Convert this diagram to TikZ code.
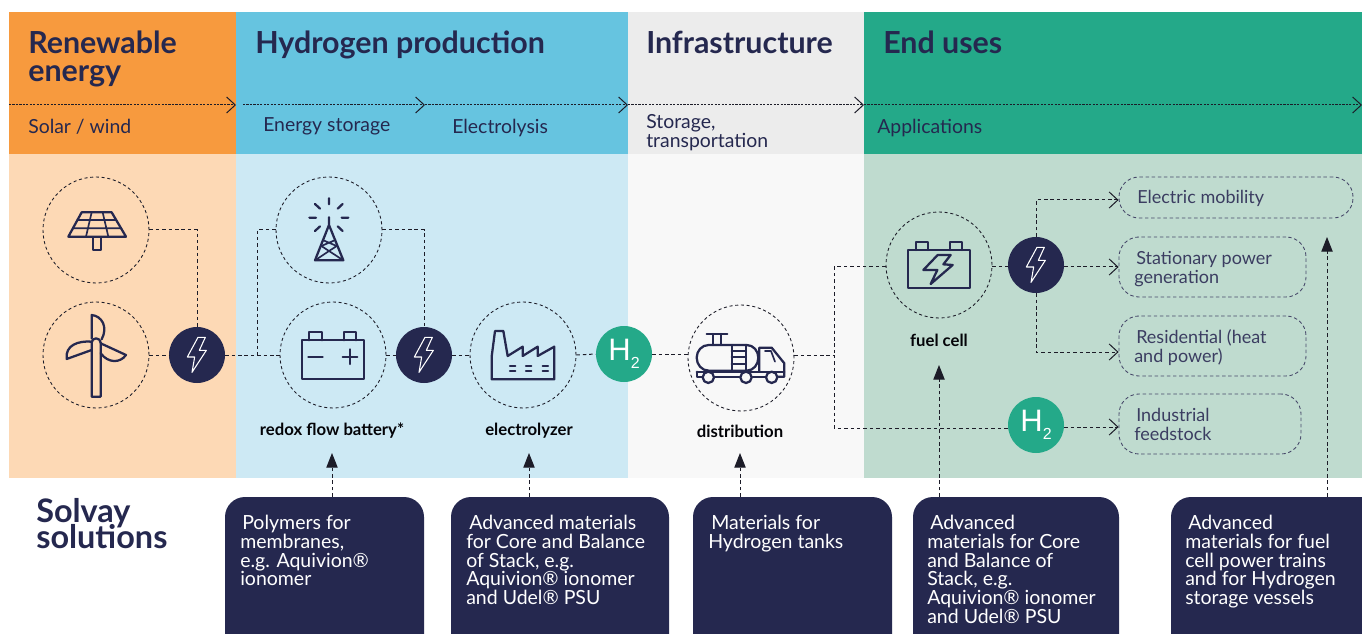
\documentclass[tikz,border=0pt]{standalone}
\usepackage{fontspec}
\setmainfont{Lato}
\usetikzlibrary{arrows.meta,calc}
\definecolor{navy}{HTML}{25284F}
\definecolor{orangeA}{HTML}{F79A3E}
\definecolor{orangeB}{HTML}{FDD9B5}
\definecolor{blueA}{HTML}{66C4E0}
\definecolor{blueB}{HTML}{CDE9F4}
\definecolor{greyA}{HTML}{ECECEC}
\definecolor{greyB}{HTML}{F8F8F8}
\definecolor{greenA}{HTML}{24A989}
\definecolor{greenB}{HTML}{BFDBCF}
\definecolor{dashc}{HTML}{1C1C28}
\newlength\px \px=.75pt
\newcommand\sz[2]{\fontsize{#1\px}{#2\px}\selectfont\lineskiplimit=-100pt }
\tikzset{
  ring/.style={circle,draw=dashc,line width=.65pt,dash pattern=on 2.3pt off 2pt,minimum size=79.5pt,inner sep=0pt},
  boltdot/.style={circle,fill=navy,minimum size=42pt,inner sep=0pt},
  hdot/.style={circle,fill=greenA,minimum size=42pt,inner sep=0pt,text=white,font=\fontspec{Liberation Sans}\sz{31}{31}},
  pill/.style={rounded corners=15pt,draw=navy!85,line width=.65pt,dash pattern=on 2.6pt off 2pt,inner sep=0pt},
  link/.style={draw=dashc,line width=.75pt,dash pattern=on 2.6pt off 2.2pt},
  stageline/.style={draw=dashc,line width=.75pt,dash pattern=on 1.6pt off 1pt,-{Straight Barb[length=6.5pt,width=12pt,line width=.75pt]}},
  bararrow/.style={link,-{Straight Barb[length=6.5pt,width=12pt,line width=.75pt]}},
  upnote/.style={link,-{Triangle[length=11pt,width=8.5pt]}},
  solbox/.style={fill=navy,rounded corners=15pt,inner sep=0pt},
  soltext/.style={anchor=north west,align=left,text=white,inner sep=0pt,font=\sz{19.5}{18.7}},
  title/.style={anchor=north west,align=left,text=navy,inner sep=0pt,font=\bfseries\sz{30.4}{28}},
  sub/.style={anchor=north west,align=left,text=navy,inner sep=0pt,font=\sz{19.4}{18.7}},
  pilltext/.style={anchor=north west,align=left,text=navy!90,inner sep=0pt,font=\sz{18}{19}},
  caption/.style={text=black!90!navy,inner sep=0pt,font=\bfseries\sz{16.7}{18}},
  ico/.style={draw=navy,line width=1.7pt,line join=round,line cap=round},
  icothin/.style={draw=navy,line width=1.25pt,line join=round,line cap=round},
  boltic/.pic={\draw[white,line width=.8pt,line join=round,scale=1/3] (3,-53)--(25,-53)--(7,-14)--(28,-14)--(-15,52)--(-7,6)--(-29,6)--cycle;}
}
\begin{document}
\begin{tikzpicture}[x=.75pt,y=-.75pt]
\useasboundingbox (0,0) rectangle (1362,634);
\clip (0,0) rectangle (1362,634);
\fill[white] (0,0) rectangle (1362,634);
% bands
\fill[orangeA] (9,12) rectangle (236,154);
\fill[blueA] (236,12) rectangle (628,154);
\fill[greyA] (628,12) rectangle (864,154);
\fill[greenA] (864,12) rectangle (1362,154);
\fill[orangeB] (9,154) rectangle (236,478);
\fill[blueB] (236,154) rectangle (628,478);
\fill[greyB] (628,154) rectangle (864,478);
\fill[greenB] (864,154) rectangle (1362,478);
% headers
\node[title] (t1) at (28,31) {Renewable\\energy};
\node[title] (t2) at (255,31) {Hydrogen production};
\node[title] (t3) at (646,31) {Infrastructure};
\node[title] (t4) at (883,31) {End uses};
\node[sub] (s1) at (28,119) {Solar / wind};
\node[sub] (s2) at (263,117) {Energy storage};
\node[sub] (s3) at (452,119) {Electrolysis};
\node[sub] (s4) at (646,114) {Storage,\\transportation};
\node[sub] (s5) at (877,119) {Applications};
% stage line
\coordinate (a0) at (9,105); \coordinate (a1) at (236,105);
\coordinate (a2) at (243,105); \coordinate (a3) at (425,105);
\coordinate (a4) at (628,105); \coordinate (a5) at (864,105);
\coordinate (a6) at (1362,105);
\draw[stageline] (a0)--(a1);
\draw[stageline] (a2)--(a3);
\draw[stageline] (a3)--(a4);
\draw[stageline] (a4)--(a5);
\draw[stageline] (a5)--(a6);
% nodes
\node[ring] (solar) at (96,230) {};
\node[ring] (wind) at (96,355) {};
\node[boltdot] (b1) at (197,355) {};
\node[ring] (tower) at (329,230) {};
\node[ring] (batt) at (333,355) {};
\node[boltdot] (b2) at (424,355) {};
\node[ring] (elec) at (523,355) {};
\node[hdot] (h1) at (624,354) {H\raisebox{-8\px}{\sz{16}{16}2}};
\node[ring] (truck) at (741,358) {};
\node[ring] (fuel) at (939,265) {};
\node[boltdot] (b3) at (1036,265) {};
\node[hdot] (h2) at (1036,425) {H\raisebox{-8\px}{\sz{16}{16}2}};
\node[pill,minimum width=175.5pt,minimum height=30.75pt] (p1) at (1236,197.5) {};
\node[pill,minimum width=140.25pt,minimum height=45pt] (p2) at (1212.5,267) {};
\node[pill,minimum width=140.25pt,minimum height=45pt] (p3) at (1212.5,346) {};
\node[pill,minimum width=136.5pt,minimum height=45pt] (p4) at (1210,424) {};
\node[pilltext] (pt1) at (1137,190) {Electric mobility};
\node[pilltext] (pt2) at (1134,251) {\hspace*{2\px}Stationary power\\generation};
\node[pilltext] (pt3) at (1134,329) {\hspace*{2\px}Residential (heat\\and power)};
\node[pilltext] (pt4) at (1134,408) {\hspace*{2\px}Industrial\\feedstock};
\node[caption] (c1) at (332,431) {redox flow battery*};
\node[caption] (c2) at (529,431) {electrolyzer};
\node[caption] (c3) at (740,431) {distribution};
\node[caption] (c4) at (939,340) {fuel cell};
% solutions
\node[anchor=north west,align=left,text=navy,inner sep=0pt,font=\bfseries\sz{32.4}{26.5}] (sol) at (36,498) {Solvay\\solutions};
\node[solbox,minimum width=149.25pt,minimum height=135pt] (k1) at (324.5,587) {};
\node[solbox,minimum width=163.5pt,minimum height=135pt] (k2) at (560,587) {};
\node[solbox,minimum width=149.25pt,minimum height=135pt] (k3) at (792.5,587) {};
\node[solbox,minimum width=154.5pt,minimum height=135pt] (k4) at (1016,587) {};
\node[solbox,minimum width=180pt,minimum height=135pt] (k5) at (1291,587) {};
\node[soltext] (kt1) at (240,515) {\hspace*{2\px}Polymers for\\membranes,\\e.g. Aquivion®\\ionomer};
\node[soltext] (kt2) at (466,515) {\hspace*{3\px}Advanced materials\\for Core and Balance\\of Stack, e.g.\\Aquivion® ionomer\\and Udel® PSU};
\node[soltext] (kt3) at (708,515) {\hspace*{3\px}Materials for\\Hydrogen tanks};
\node[soltext] (kt4) at (927,515) {\hspace*{3\px}Advanced\\materials for Core\\and Balance of\\Stack, e.g.\\Aquivion® ionomer\\and Udel® PSU};
\node[soltext] (kt5) at (1185,515) {\hspace*{3\px}Advanced\\materials for fuel\\cell power trains\\and for Hydrogen\\storage vessels};
% connectors
\draw[link] (solar.east) -| (b1.north);
\draw[link] (wind.east) -- (b1.west);
\draw[link] (b1.east) -- (batt.west);
\coordinate (j1) at (257,355);
\draw[link] (tower.west) -| (j1);
\draw[link] (tower.east) -| (b2.north);
\draw[link] (batt.east) -- (b2.west);
\draw[link] (b2.east) -- (elec.west);
\draw[link] (elec.east) -- (h1.west);
\draw[link] (h1.east) -- (truck.west |- h1.east);
\coordinate (j2) at (834,355);
\draw[link] (truck.east |- j2) -- (j2);
\draw[link] (fuel.west |- 0,267) -| (j2);
\draw[link] (j2) |- (h2.west |- 0,428);
\draw[link] (fuel.east |- 0,267) -- (b3.west |- 0,267);
\draw[bararrow] (b3.north) |- (p1.west |- 0,200);
\draw[bararrow] (b3.east |- 0,267) -- (p2.west |- 0,267);
\draw[bararrow] (b3.south) |- (p3.west |- 0,352);
\draw[bararrow] (h2.east |- 0,427) -- (p4.west |- 0,427);
\coordinate (n5) at (1327,237);
\draw[upnote] (k1.north -| c1.south) -- (c1.south |- 0,453);
\draw[upnote] (k2.north -| c2.south) -- (c2.south |- 0,453);
\draw[upnote] (k3.north -| c3.south) -- (c3.south |- 0,453);
\draw[upnote] (k4.north -| c4.south) -- (c4.south |- 0,365);
\draw[upnote] (k5.north -| n5) -- (n5);
% bolts
\path (b1) pic {boltic};
\path (b2) pic {boltic};
\path (b3) pic {boltic};
% solar icon
\begin{scope}[shift={(0,160)},scale=1/3]
\draw[ico] (245,157)--(335,157)--(378,230)--(205,230)--cycle;
\draw[icothin] (232,180)--(349,180) (219,205)--(364,205) (275,157)--(258,230) (308,157)--(325,230);
\draw[ico] (278,232) rectangle (304,271);
% wind
\draw[ico] (275,710)--(275,548) to[out=90,in=180] (288,535) to[out=0,in=90] (302,548)--(302,710)--cycle;
\draw[ico] (275,535)--(275,465) .. controls (305,468) and (325,500) .. (305,538);
\draw[ico] (275,545) .. controls (235,542) and (195,555) .. (200,597) -- (275,570);
\draw[ico] (302,550)--(378,585) .. controls (360,610) and (325,610) .. (302,580);
% tower
\draw[ico] (987,115)--(987,133) (945,132)--(960,146) (1028,132)--(1013,146) (928,173)--(948,173) (1025,173)--(1045,173) (945,213)--(960,199) (1028,213)--(1013,199);
\draw[ico] (987,172)--(987,195) (945,301)--(987,195)--(1030,301)--cycle;
\draw[icothin] (945,301)--(1010,258)--(968,240) (1030,301)--(964,258)--(1006,240);
% battery
\draw[ico] (905,541) rectangle (1092,656);
\draw[ico] (928,541)--(928,517)--(965,517)--(965,541) (1032,541)--(1032,517)--(1068,517)--(1068,541);
\draw[ico] (925,590)--(968,590) (1028,590)--(1072,590) (1050,568)--(1050,612);
\end{scope}
% factory + truck
\begin{scope}[shift={(450,280)},scale=1/3]
\draw[ico] (125,298)--(125,230)--(135,153)--(160,153)--(173,228)--(218,200)--(218,228)--(263,200)--(263,228)--(313,200)--(313,298)--cycle;
\foreach \xa in {180,228,278}{
  \draw[ico] (\xa,258)--(\xa+16,258) (\xa,273)--(\xa+16,273);
}
\draw[ico] (776,195)--(890,195) to[out=0,in=90] (925,233) to[out=-90,in=0] (890,272)--(776,272) to[out=180,in=-90] (740,233) to[out=90,in=180] (776,195);
\draw[ico] (770,162)--(832,162) (790,162)--(790,195) (812,162)--(812,195);
\draw[ico] (845,195)--(845,272) (888,195)--(888,272) (845,212)--(888,212) (845,232)--(888,232) (845,252)--(888,252);
\draw[ico] (928,275)--(928,203)--(965,203)--(1003,250)--(1003,290)--(985,290);
\draw[icothin] (945,213)--(963,213)--(975,245);
\draw[ico] (740,275)--(1003,275) (740,275)--(740,290)--(757,290) (795,290)--(868,290) (908,290)--(945,290);
\draw[ico,fill=greyB] (775,292) circle[radius=17];
\draw[ico,fill=greyB] (888,292) circle[radius=17];
\draw[ico,fill=greyB] (965,292) circle[radius=17];
\end{scope}
% fuel cell
\begin{scope}[shift={(860,160)},scale=1/3]
\draw[ico] (143,270) rectangle (330,384);
\draw[ico] (167,270)--(167,245)--(203,245)--(203,270) (270,270)--(270,245)--(306,245)--(306,270);
\draw[ico] (233,285)--(272,285)--(250,313)--(278,315)--(212,372)--(232,330)--(190,330)--cycle;
\end{scope}
\end{tikzpicture}
\end{document}
